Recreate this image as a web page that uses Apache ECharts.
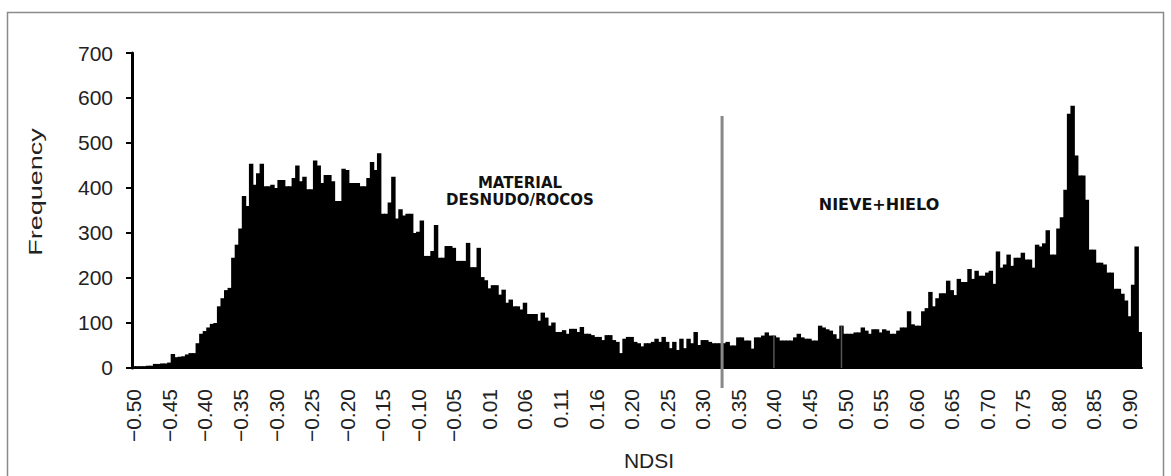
<!DOCTYPE html>
<html>
<head>
<meta charset="utf-8">
<script src="https://cdn.jsdelivr.net/npm/echarts@6/dist/echarts.min.js"></script>
<style>
html,body{margin:0;padding:0;background:#fff;}
#chart{width:1171px;height:476px;}
</style>
</head>
<body>
<div id="chart"></div>
<script>
// Histogram of NDSI values (bins of 0.005 starting at -0.50)
const FREQ = [
  4,4,4,4,5,5,9,9,10,10,
  12,31,24,25,26,30,33,33,55,76,
  82,90,98,100,137,155,173,178,245,274,
  310,382,360,454,407,433,454,404,404,407,
  400,418,418,404,404,422,450,415,425,397,
  397,461,450,411,429,429,415,371,371,443,
  440,411,411,411,404,404,422,458,440,477,
  343,343,368,425,332,353,339,343,343,300,
  303,328,249,249,260,318,245,245,271,271,
  267,238,238,238,278,224,224,267,202,195,
  177,184,184,163,174,145,152,137,137,130,
  145,120,120,120,105,123,112,94,101,80,
  80,84,76,87,87,80,91,76,76,73,
  69,69,62,73,73,62,58,33,65,69,
  69,58,55,48,55,55,58,65,58,69,
  58,44,58,40,65,44,65,55,80,51,
  62,62,58,55,55,55,55,58,50,50,
  68,68,61,61,43,68,68,72,79,72,
  72,68,61,61,61,61,68,76,68,65,
  65,61,61,94,90,86,83,75,65,94,
  76,76,76,79,79,90,83,76,86,86,
  79,86,83,76,76,83,90,90,126,97,
  94,94,126,133,169,137,155,166,166,194,
  173,162,198,191,191,220,198,216,205,205,
  212,216,187,259,223,230,252,227,245,245,
  256,241,241,223,274,270,277,306,252,252,
  310,335,396,565,583,472,428,428,374,263,
  263,234,234,230,212,212,176,176,165,150,
  115,185,270,80
];
const BIN_START = -0.50;
const BIN_WIDTH = 0.005;
const CATEGORIES = FREQ.map((_, i) => (BIN_START + BIN_WIDTH * i).toFixed(3));
const TICK_LABELS = ['\u22120.50','\u22120.45','\u22120.40','\u22120.35','\u22120.30','\u22120.25','\u22120.20','\u22120.15','\u22120.10','\u22120.05',
  '0.01','0.06','0.11','0.16','0.20','0.25','0.30','0.35','0.40','0.45','0.50','0.55','0.60','0.65','0.70','0.75','0.80','0.85','0.90'];
const LABEL_STEP = 10;
const Y_MAX = 700;
const Y_STEP = 100;
const SEPARATOR_BIN = 165;      // NDSI threshold ~0.33
const SEPARATOR_TOP = 560;      // top of separator line (frequency units)
const FAINT_LINE_BINS = [180, 199]; // thin grey scan lines inside the bars

const chart = echarts.init(document.getElementById('chart'), null, {renderer: 'svg'});
const FONT = '"Liberation Sans", Arial, Helvetica, sans-serif';

chart.setOption({
  animation: false,
  backgroundColor: '#fff',
  grid: {left: 132, right: 29, top: 53, bottom: 99, containLabel: false},
  xAxis: {
    type: 'category',
    data: CATEGORIES,
    boundaryGap: true,
    axisLine: {show: true, lineStyle: {color: '#000', width: 2}},
    axisTick: {show: false},
    axisLabel: {
      interval: LABEL_STEP - 1,
      rotate: 90,
      margin: 21,
      color: '#222',
      fontSize: 21,
      fontFamily: FONT,
      formatter: function (v) {
        const idx = CATEGORIES.indexOf(v);
        return TICK_LABELS[Math.round(idx / LABEL_STEP)] || '';
      }
    },
    name: 'NDSI',
    nameLocation: 'middle',
    nameGap: 77,
    nameTextStyle: {color: '#222', fontSize: 21, fontFamily: FONT, padding: [0, 0, 0, 24], verticalAlign: 'top'},
    splitLine: {show: false}
  },
  yAxis: {
    type: 'value',
    min: 0,
    max: Y_MAX,
    interval: Y_STEP,
    axisLine: {show: true, lineStyle: {color: '#000', width: 3}},
    axisTick: {show: true, length: 6, lineStyle: {color: '#000', width: 2}},
    axisLabel: {color: '#222', fontSize: 21, fontFamily: FONT, margin: 19},
    splitLine: {show: false}
  },
  series: [{
    type: 'bar',
    data: FREQ,
    barWidth: '125%',
    barGap: '-100%',
    itemStyle: {color: '#000', borderWidth: 0},
    emphasis: {disabled: true}
  }]
});

function addGraphics() {
  const xs = chart.convertToPixel({xAxisIndex: 0}, CATEGORIES[SEPARATOR_BIN]) + 1.5;
  const yTop = chart.convertToPixel({yAxisIndex: 0}, SEPARATOR_TOP);
  const yZero = chart.convertToPixel({yAxisIndex: 0}, 0);
  const faint = FAINT_LINE_BINS.map(b => {
    const x = chart.convertToPixel({xAxisIndex: 0}, CATEGORIES[b]);
    const y = chart.convertToPixel({yAxisIndex: 0}, FREQ[b]);
    return {type: 'line', z: 90, silent: true,
      shape: {x1: x, y1: y, x2: x, y2: yZero},
      style: {stroke: '#555', lineWidth: 1.5}};
  });
  chart.setOption({
    graphic: [
      {type: 'rect', z: 0, silent: true,
       shape: {x: 7.5, y: 12.5, width: 1156, height: 470},
       style: {fill: 'none', stroke: '#8a8a8a', lineWidth: 1.5}},
      {type: 'line', z: 100, silent: true,
       shape: {x1: xs, y1: yTop, x2: xs, y2: yZero + 20},
       style: {stroke: '#888', lineWidth: 3}},
      ...faint,
      {type: 'text', z: 100, silent: true, x: 36, y: 192, rotation: Math.PI / 2, scaleX: 1.5,
       style: {text: 'Frequency', font: '18px ' + FONT, fill: '#222', textAlign: 'center', textVerticalAlign: 'middle'}},
      {type: 'text', z: 100, silent: true, x: 520, y: 183,
       style: {text: 'MATERIAL', font: 'bold 15px "DejaVu Sans", sans-serif', fill: '#111', textAlign: 'center', textVerticalAlign: 'middle'}},
      {type: 'text', z: 100, silent: true, x: 520, y: 200,
       style: {text: 'DESNUDO/ROCOS', font: 'bold 15px "DejaVu Sans", sans-serif', fill: '#111', textAlign: 'center', textVerticalAlign: 'middle'}},
      {type: 'text', z: 100, silent: true, x: 879, y: 204,
       style: {text: 'NIEVE+HIELO', font: 'bold 16px "DejaVu Sans", sans-serif', fill: '#111', textAlign: 'center', textVerticalAlign: 'middle'}}
    ]
  });
}
addGraphics();
</script>
</body>
</html>
